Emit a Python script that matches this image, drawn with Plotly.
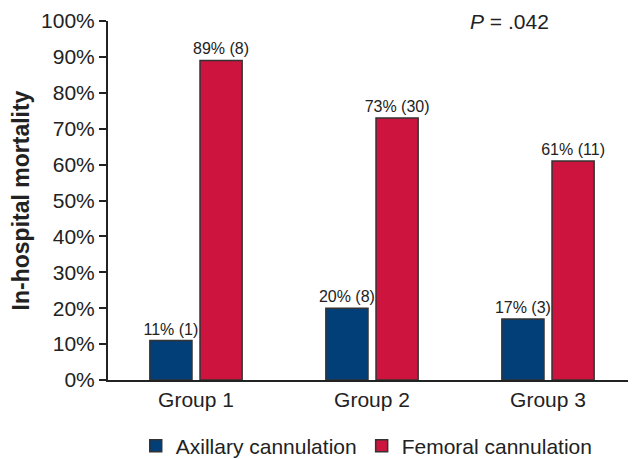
import plotly.graph_objects as go

groups = ["Group 1", "Group 2", "Group 3"]
axillary = [11, 20, 17]
axillary_n = [1, 8, 3]
femoral = [89, 73, 61]
femoral_n = [8, 30, 11]
y_ticks = [0, 10, 20, 30, 40, 50, 60, 70, 80, 90, 100]

FONT = "Liberation Sans, Arial, sans-serif"

fig = go.Figure()
fig.add_trace(go.Bar(
    x=groups, y=axillary, name="Axillary cannulation",
    text=[f"{v}% ({n})" for v, n in zip(axillary, axillary_n)],
    textposition="outside", cliponaxis=False, constraintext="none",
    textfont=dict(size=16, color="#222"),
    marker=dict(color="#023f78", line=dict(color="#333333", width=1.5)),
))
fig.add_trace(go.Bar(
    x=groups, y=femoral, name="Femoral cannulation",
    text=[f"{v}% ({n})" for v, n in zip(femoral, femoral_n)],
    textposition="outside", cliponaxis=False, constraintext="none",
    textfont=dict(size=16, color="#222"),
    marker=dict(color="#cc143e", line=dict(color="#333333", width=1.5)),
))

fig.add_annotation(
    x=0.76, y=1.0, xref="paper", yref="paper", xanchor="center", yanchor="middle",
    text="<i>P</i> = .042", showarrow=False, font=dict(size=21, color="#222", family=FONT),
)

fig.update_layout(
    width=628, height=451,
    margin=dict(l=100, r=0, t=13, b=79, autoexpand=False),
    paper_bgcolor="white", plot_bgcolor="white",
    font=dict(family=FONT, color="#222"),
    barmode="group", bargap=0.43, bargroupgap=0.16,
    showlegend=True,
    legend=dict(orientation="h", x=0.49, xanchor="center", y=-0.184, yanchor="middle",
                font=dict(size=21, color="#222"), itemwidth=30),
)
fig.update_yaxes(
    range=[0, 100], tickvals=y_ticks, ticktext=[f"{v}%" for v in y_ticks],
    showgrid=False, zeroline=False, showline=True, linecolor="#222", linewidth=2,
    ticks="outside", ticklen=7, tickwidth=2, tickcolor="#222",
    tickfont=dict(size=21, color="#222"), automargin=False,
    title=dict(text="<b>In-hospital mortality</b>", font=dict(size=23, color="#222"), standoff=14),
)
fig.update_xaxes(
    range=[-0.5, 2.5], showgrid=False, showline=True, linecolor="#222", linewidth=2,
    ticks="", tickfont=dict(size=21, color="#222"), automargin=False,
)

fig.write_html("out.html")
